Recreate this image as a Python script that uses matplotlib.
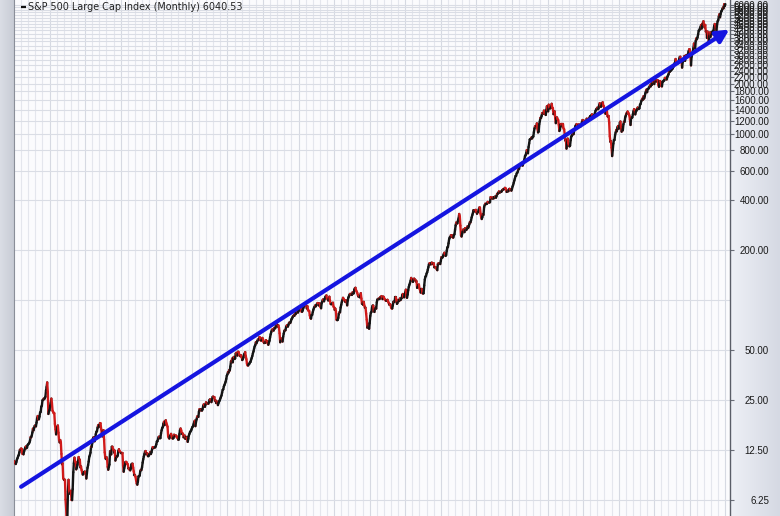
"""
S&P 500 Large Cap Index, monthly closes 1925-2025 on a log scale,
with a long-term trend arrow (StockCharts style).
"""

import matplotlib

matplotlib.use("Agg")

import matplotlib.pyplot as plt
import numpy as np
import pandas as pd
from matplotlib.collections import LineCollection

# monthly closes, Jan of first year .. Dec
spx_1920s = [
    10.58, 10.67, 10.39, 10.28, 10.58, 10.95, 11.16, 11.46, 11.64, 12.08, 12.53, 12.46,
    12.74, 12.68, 11.86, 11.85, 11.76, 12.25, 12.59, 12.90, 13.11, 12.79, 12.95, 13.40,
    13.49, 13.66, 13.83, 14.20, 14.91, 14.89, 15.26, 15.91, 16.79, 16.39, 16.99, 17.46,
    17.53, 17.32, 18.25, 19.40, 20.00, 19.14, 19.11, 19.84, 21.00, 21.17, 22.74, 23.08,
    24.86, 24.99, 25.43, 25.28, 25.66, 26.14, 28.48, 29.88, 31.86, 27.99, 20.58, 21.40,
]
spx_1930s = [
    21.71, 23.07, 23.94, 25.46, 23.94, 21.51, 21.21, 20.79, 20.78, 17.92, 16.62, 15.51,
    15.98, 17.20, 17.53, 15.86, 14.33, 13.87, 14.33, 13.90, 11.83, 10.25, 10.39, 8.44,
    8.30, 8.23, 8.26, 6.28, 5.51, 4.47, 4.77, 7.05, 8.26, 7.12, 6.82, 6.87,
    7.09, 6.25, 6.23, 7.26, 9.17, 10.39, 11.23, 10.67, 10.58, 9.55, 9.78, 10.17,
    10.60, 11.32, 10.74, 10.92, 9.81, 9.94, 9.47, 9.10, 8.88, 8.95, 9.20, 9.26,
    9.26, 8.98, 8.41, 9.04, 9.75, 10.12, 10.65, 11.37, 11.61, 12.03, 13.07, 13.04,
    13.76, 14.55, 14.86, 14.88, 14.09, 14.69, 15.56, 16.08, 16.21, 16.98, 17.60, 17.17,
    17.59, 18.11, 18.09, 16.69, 15.90, 15.08, 16.28, 16.42, 14.37, 12.09, 11.20, 11.02,
    11.31, 11.04, 9.89, 9.50, 9.86, 10.21, 12.24, 12.31, 11.75, 13.06, 13.07, 12.69,
    12.50, 12.05, 12.36, 10.79, 11.14, 11.46, 11.39, 11.57, 12.29, 12.62, 12.31, 12.18,
]
spx_1940s = [
    12.05, 11.94, 11.96, 11.98, 10.07, 9.24, 9.73, 10.08, 10.56, 10.60, 10.52, 10.28,
    10.24, 9.66, 9.68, 9.49, 9.42, 9.64, 10.21, 10.31, 10.32, 9.77, 9.28, 8.80,
    8.80, 8.62, 8.18, 7.84, 7.72, 8.05, 8.66, 8.67, 8.77, 9.30, 9.48, 9.47,
    9.84, 10.48, 11.00, 11.40, 11.80, 12.20, 12.31, 11.76, 11.95, 11.95, 11.46, 11.48,
    11.74, 11.79, 12.16, 11.81, 12.12, 12.66, 13.00, 12.85, 12.83, 12.95, 12.94, 13.12,
    13.49, 14.06, 14.08, 14.58, 14.94, 15.04, 14.69, 14.73, 15.73, 16.40, 16.96, 17.12,
    17.94, 18.46, 17.63, 18.55, 18.85, 18.11, 17.70, 17.24, 15.10, 14.80, 14.64, 15.07,
    15.30, 15.61, 15.15, 14.69, 14.63, 14.74, 15.43, 15.07, 15.17, 15.26, 15.19, 14.88,
    14.74, 14.41, 14.44, 15.54, 16.43, 16.82, 16.42, 15.84, 15.69, 15.69, 14.89, 14.99,
    15.25, 14.58, 14.86, 14.86, 14.54, 13.98, 14.58, 15.28, 15.64, 16.05, 16.16, 16.45,
]
spx_1950s = [
    16.81, 17.18, 17.35, 17.84, 18.44, 18.74, 17.38, 18.43, 19.08, 19.87, 19.83, 19.75,
    21.21, 22.00, 21.63, 21.92, 21.93, 21.55, 21.93, 22.89, 23.48, 23.36, 22.71, 23.41,
    24.19, 23.75, 23.81, 23.74, 23.73, 24.38, 25.08, 25.18, 24.78, 24.26, 25.03, 26.04,
    26.18, 25.86, 25.99, 24.71, 24.84, 23.95, 24.29, 24.39, 23.27, 23.97, 24.50, 24.83,
    25.46, 26.02, 26.57, 27.63, 28.73, 28.96, 30.13, 30.73, 31.45, 32.18, 33.44, 34.97,
    35.60, 36.79, 36.50, 37.76, 37.60, 39.78, 42.69, 42.43, 44.34, 42.11, 44.95, 45.37,
    44.15, 44.43, 47.49, 48.05, 46.54, 46.27, 48.78, 48.49, 46.84, 46.24, 45.76, 46.44,
    45.43, 43.47, 44.03, 45.05, 46.78, 47.55, 48.51, 45.84, 43.98, 41.24, 40.35, 40.33,
    41.12, 41.26, 42.11, 42.34, 43.70, 44.75, 45.98, 47.70, 48.96, 50.95, 52.50, 53.49,
    55.62, 54.77, 56.15, 57.10, 57.96, 57.46, 59.74, 59.40, 57.05, 57.00, 57.23, 59.06,
]
spx_1960s = [
    58.03, 55.78, 55.02, 55.73, 55.22, 57.26, 55.84, 56.51, 54.81, 53.73, 55.47, 56.80,
    59.72, 62.17, 64.12, 65.83, 66.50, 65.62, 65.44, 67.79, 67.26, 68.00, 71.08, 71.74,
    69.07, 70.22, 70.29, 68.05, 62.99, 55.63, 56.97, 58.52, 58.00, 56.17, 60.04, 62.64,
    65.06, 65.92, 65.67, 68.76, 70.14, 70.11, 69.07, 70.98, 72.85, 73.03, 72.62, 74.17,
    76.45, 77.39, 78.80, 79.94, 80.72, 80.24, 83.22, 82.00, 83.41, 84.85, 85.44, 83.96,
    86.12, 86.75, 86.83, 87.97, 89.28, 85.04, 84.91, 86.49, 89.38, 91.39, 92.15, 91.73,
    93.32, 92.69, 88.88, 91.60, 86.78, 86.06, 85.84, 80.65, 77.81, 77.13, 80.99, 81.33,
    84.45, 87.36, 89.42, 90.96, 92.59, 91.43, 93.01, 94.49, 95.81, 95.66, 92.66, 95.30,
    95.04, 90.75, 89.09, 95.67, 97.87, 100.5, 100.3, 98.11, 101.3, 103.8, 105.4, 106.5,
    102.0, 101.5, 99.30, 101.3, 104.6, 99.14, 94.71, 94.18, 94.51, 95.52, 96.21, 91.11,
]
spx_1970s = [
    90.31, 87.16, 88.65, 85.95, 76.06, 75.59, 75.72, 77.92, 82.58, 84.37, 84.28, 90.05,
    93.49, 97.11, 99.60, 103.0, 101.6, 99.72, 99.00, 97.24, 99.40, 97.29, 92.78, 99.17,
    103.3, 105.2, 107.7, 108.8, 107.7, 108.0, 107.2, 111.0, 109.4, 109.6, 115.1, 117.5,
    118.4, 114.2, 112.4, 110.3, 107.2, 104.8, 105.8, 103.8, 105.6, 109.8, 102.0, 94.78,
    96.11, 93.45, 97.44, 92.46, 89.67, 89.79, 82.82, 76.03, 68.12, 69.44, 71.74, 67.07,
    72.56, 80.10, 83.78, 84.72, 90.10, 92.40, 92.49, 85.71, 84.67, 88.57, 90.07, 88.70,
    96.86, 100.6, 101.1, 101.9, 101.2, 101.8, 104.2, 103.3, 105.5, 101.9, 101.2, 104.7,
    103.8, 101.0, 100.6, 99.05, 98.76, 99.29, 100.2, 97.75, 96.23, 93.74, 94.28, 93.82,
    90.25, 88.98, 88.82, 92.71, 97.41, 97.66, 97.19, 103.9, 103.9, 100.6, 94.71, 96.11,
    99.71, 98.23, 100.1, 102.1, 99.73, 101.7, 102.7, 107.4, 108.6, 104.5, 103.7, 107.8,
]
spx_1980s = [
    110.9, 115.3, 104.7, 103.0, 107.7, 114.6, 119.8, 123.5, 126.5, 130.2, 135.7, 133.5,
    133.0, 128.4, 133.2, 134.4, 131.7, 132.3, 129.1, 129.6, 118.3, 119.8, 122.9, 123.8,
    117.3, 114.5, 110.8, 116.3, 116.4, 109.7, 109.4, 109.7, 122.4, 132.7, 138.1, 139.4,
    144.3, 146.8, 151.9, 157.7, 164.1, 166.4, 166.0, 163.6, 167.2, 167.7, 165.2, 164.4,
    166.4, 157.3, 157.4, 157.6, 156.6, 153.1, 151.1, 164.4, 166.1, 164.8, 166.3, 164.5,
    171.6, 180.9, 179.4, 180.6, 184.9, 188.9, 192.5, 188.3, 184.1, 186.2, 197.5, 207.3,
    208.2, 219.4, 232.3, 238.0, 238.5, 245.3, 240.2, 245.0, 238.3, 237.4, 245.1, 248.6,
    264.5, 280.9, 292.5, 289.3, 289.1, 301.4, 310.1, 329.4, 318.7, 280.2, 245.0, 241.0,
    250.5, 258.1, 265.7, 262.6, 256.1, 270.7, 269.1, 263.7, 268.0, 277.4, 271.0, 276.5,
    285.4, 294.0, 292.7, 302.3, 313.9, 323.7, 331.9, 346.6, 347.3, 347.4, 340.2, 348.6,
]
spx_1990s = [
    340.0, 330.5, 338.5, 338.2, 350.3, 360.4, 360.0, 330.8, 315.4, 307.1, 315.3, 328.8,
    325.5, 362.3, 372.3, 379.7, 378.0, 378.3, 380.2, 389.4, 387.2, 386.9, 385.9, 388.5,
    416.1, 412.6, 407.4, 407.4, 414.8, 408.3, 415.1, 417.9, 418.5, 412.5, 422.8, 435.6,
    435.2, 441.7, 450.2, 443.1, 445.3, 448.1, 447.3, 454.1, 459.2, 463.9, 462.9, 466.0,
    473.0, 471.6, 463.8, 447.2, 450.9, 454.8, 451.4, 464.2, 467.0, 463.8, 461.0, 455.2,
    465.3, 481.9, 493.2, 507.9, 523.8, 539.4, 557.4, 559.1, 578.8, 582.9, 595.5, 614.6,
    614.4, 649.5, 647.1, 647.2, 661.2, 668.5, 644.1, 662.7, 674.9, 701.5, 735.7, 743.3,
    766.2, 798.4, 792.2, 763.9, 833.1, 876.3, 925.3, 927.7, 937.0, 951.2, 938.9, 962.4,
    963.4, 1023.7, 1076.8, 1112.2, 1108.4, 1108.4, 1156.6, 1074.6, 1020.6, 1032.5, 1144.4, 1190.1,
    1248.8, 1246.6, 1281.7, 1334.8, 1332.1, 1322.6, 1381.0, 1327.5, 1318.2, 1300.0, 1391.0, 1469.3,
]
spx_2000s = [
    1394.5, 1366.4, 1498.6, 1452.4, 1420.6, 1454.6, 1430.8, 1517.7, 1436.5, 1429.4, 1315.2, 1320.3,
    1366.0, 1239.9, 1160.3, 1249.5, 1255.8, 1224.4, 1211.2, 1133.6, 1040.9, 1059.8, 1139.5, 1148.1,
    1130.2, 1106.7, 1147.4, 1076.9, 1067.1, 989.8, 911.6, 916.1, 815.3, 885.8, 936.3, 879.8,
    855.7, 841.2, 848.2, 916.9, 963.6, 974.5, 990.3, 1008.0, 996.0, 1050.7, 1058.2, 1111.9,
    1131.1, 1144.9, 1126.2, 1107.3, 1120.7, 1140.8, 1101.7, 1104.2, 1114.6, 1130.2, 1173.8, 1211.9,
    1181.3, 1203.6, 1180.6, 1156.9, 1191.5, 1191.3, 1234.2, 1220.3, 1228.8, 1207.0, 1249.5, 1248.3,
    1280.1, 1280.7, 1294.9, 1310.6, 1270.1, 1270.2, 1276.7, 1303.8, 1335.9, 1377.9, 1400.6, 1418.3,
    1438.2, 1406.8, 1420.9, 1482.4, 1530.6, 1503.4, 1455.3, 1473.9, 1526.8, 1549.4, 1481.1, 1468.4,
    1378.6, 1330.6, 1322.7, 1385.6, 1400.4, 1280.0, 1267.4, 1282.8, 1166.4, 968.8, 896.2, 903.3,
    825.9, 735.1, 797.9, 872.8, 919.1, 919.3, 987.5, 1020.6, 1057.1, 1036.2, 1095.6, 1115.1,
]
spx_2010s = [
    1073.9, 1104.5, 1169.4, 1186.7, 1089.4, 1030.7, 1101.6, 1049.3, 1141.2, 1183.3, 1180.6, 1257.6,
    1286.1, 1327.2, 1325.8, 1363.6, 1345.2, 1320.6, 1292.3, 1218.9, 1131.4, 1253.3, 1247.0, 1257.6,
    1312.4, 1365.7, 1408.5, 1397.9, 1310.3, 1362.2, 1379.3, 1406.6, 1440.7, 1412.2, 1416.2, 1426.2,
    1498.1, 1514.7, 1569.2, 1597.6, 1630.7, 1606.3, 1685.7, 1633.0, 1681.6, 1756.5, 1805.8, 1848.4,
    1782.6, 1859.5, 1872.3, 1883.9, 1923.6, 1960.2, 1930.7, 2003.4, 1972.3, 2018.1, 2067.6, 2058.9,
    1995.0, 2104.5, 2067.9, 2085.5, 2107.4, 2063.1, 2103.8, 1972.2, 1920.0, 2079.4, 2080.4, 2043.9,
    1940.2, 1932.2, 2059.7, 2065.3, 2096.9, 2098.9, 2173.6, 2170.9, 2168.3, 2126.2, 2199.0, 2238.8,
    2278.9, 2363.6, 2362.7, 2384.2, 2411.8, 2423.4, 2470.3, 2471.7, 2519.4, 2575.3, 2647.6, 2673.6,
    2823.8, 2713.8, 2640.9, 2648.1, 2705.3, 2718.4, 2816.3, 2901.5, 2913.98, 2711.7, 2760.2, 2506.9,
    2704.1, 2784.5, 2834.4, 2945.8, 2752.1, 2941.8, 2980.4, 2926.5, 2977.0, 3037.6, 3141.0, 3230.8,
]
spx_2020s = [
    3225.5, 2954.2, 2584.6, 2912.4, 3044.3, 3100.3, 3271.1, 3500.3, 3363.0, 3270.0, 3621.6, 3756.1,
    3714.2, 3811.2, 3972.9, 4181.2, 4204.1, 4297.5, 4395.3, 4522.7, 4307.5, 4605.4, 4567.0, 4766.2,
    4515.6, 4373.9, 4530.4, 4131.9, 4132.2, 3785.4, 4130.3, 3955.0, 3585.6, 3871.98, 4080.1, 3839.5,
    4076.6, 3970.2, 4109.3, 4169.5, 4179.8, 4450.4, 4588.96, 4507.7, 4288.1, 4193.8, 4567.8, 4769.8,
    4845.7, 5096.3, 5254.4, 5035.7, 5277.5, 5460.5, 5522.3, 5648.4, 5762.5, 5705.5, 6032.4, 5881.6,
    6040.53,
]

last_value = 6040.53
title_text = "S&P 500 Large Cap Index (Monthly)"

# long-term trend arrow, (year, price)
trend_start = (1926.0, 7.5)
trend_end = (2025.55, 4250.0)

# right axis labels
y_ticks = [6.25, 12.5, 25, 50, 200, 400, 600, 800] + list(range(1000, 6001, 200))
y_grid = [6.25, 12.5, 25, 50, 100, 200, 400, 600, 800] + list(range(1000, 6001, 200))


def main() -> None:
    closes = np.array(
        spx_1920s + spx_1930s + spx_1940s + spx_1950s + spx_1960s
        + spx_1970s + spx_1980s + spx_1990s + spx_2000s + spx_2010s + spx_2020s
    )
    dates = pd.date_range("1925-01-01", periods=len(closes), freq="MS")
    t = dates.year + (dates.month - 1) / 12.0

    fig = plt.figure(figsize=(7.8, 5.16), dpi=100)
    fig.patch.set_facecolor("#dfe2ea")

    # side panels
    grad = fig.add_axes([730 / 780, 0, 50 / 780, 1])
    grad.imshow(
        np.linspace(0, 1, 64).reshape(1, -1),
        cmap=matplotlib.colors.LinearSegmentedColormap.from_list("p", ["#eef0f6", "#d5d9e3"]),
        aspect="auto", extent=(0, 1, 0, 1),
    )
    grad.set_axis_off()
    lp = fig.add_axes([0, 0, 14 / 780, 1])
    lp.imshow(
        np.linspace(0, 1, 32).reshape(1, -1),
        cmap=matplotlib.colors.LinearSegmentedColormap.from_list("l", ["#dadde5", "#c8ccd5"]),
        aspect="auto", extent=(0, 1, 0, 1),
    )
    lp.set_axis_off()

    ax = fig.add_axes([14 / 780, 0, 716 / 780, 1])
    ax.set_facecolor("#fbfbfd")
    ax.set_yscale("log")
    ax.set_xlim(1925.0, 2025.65)
    ax.set_ylim(5.0, 6400)

    # grid
    for yr in range(1926, 2026):
        ax.axvline(yr, color="#d6d9e2" if yr % 5 == 0 else "#e4e6ed", lw=0.8, zorder=0)
    for v in y_grid:
        ax.axhline(v, color="#dadde5", lw=0.8, zorder=0)

    # price line: black up, red down
    pts = np.column_stack([t, closes])
    segs = np.stack([pts[:-1], pts[1:]], axis=1)
    up = np.diff(closes) >= 0
    colors = np.where(up, "#141414", "#d01a1a")
    lc = LineCollection(segs, colors=colors, linewidths=1.7, capstyle="round", zorder=3)
    ax.add_collection(lc)

    # trend arrow
    ax.annotate(
        "", xy=trend_end, xytext=trend_start,
        arrowprops=dict(arrowstyle="-|>,head_length=0.75,head_width=0.38",
                        color="#1515e0", lw=3.0, shrinkA=0, shrinkB=0),
        zorder=4,
    )

    # axes cosmetics
    ax.set_xticks([])
    ax.yaxis.tick_right()
    ax.set_yticks(y_ticks)
    ax.set_yticklabels([f"{v:.2f}" for v in y_ticks])
    ax.yaxis.set_minor_locator(matplotlib.ticker.NullLocator())
    ax.tick_params(axis="y", length=3, width=0.8, color="#6a6e78", pad=25,
                   labelsize=7, labelcolor="#1a1a1a")
    for lab in ax.get_yticklabels():
        lab.set_horizontalalignment("right")
        lab.set_fontfamily("Liberation Sans")
    for side in ("top", "bottom"):
        ax.spines[side].set_visible(False)
    ax.spines["left"].set_color("#8a8e98")
    ax.spines["right"].set_color("#5a5e68")
    ax.spines["right"].set_linewidth(1.0)

    # legend line in the corner
    ax.plot([0.0098, 0.0168], [0.986, 0.986], transform=ax.transAxes,
            color="#111111", lw=1.6, solid_capstyle="butt", zorder=5)
    ax.text(0.0195, 0.986, f"{title_text} {last_value:.2f}", transform=ax.transAxes,
            fontsize=6.9, color="#222222", va="center", ha="left", zorder=5)

    fig.savefig("out.png", dpi=100)
    plt.close(fig)


if __name__ == "__main__":
    main()
